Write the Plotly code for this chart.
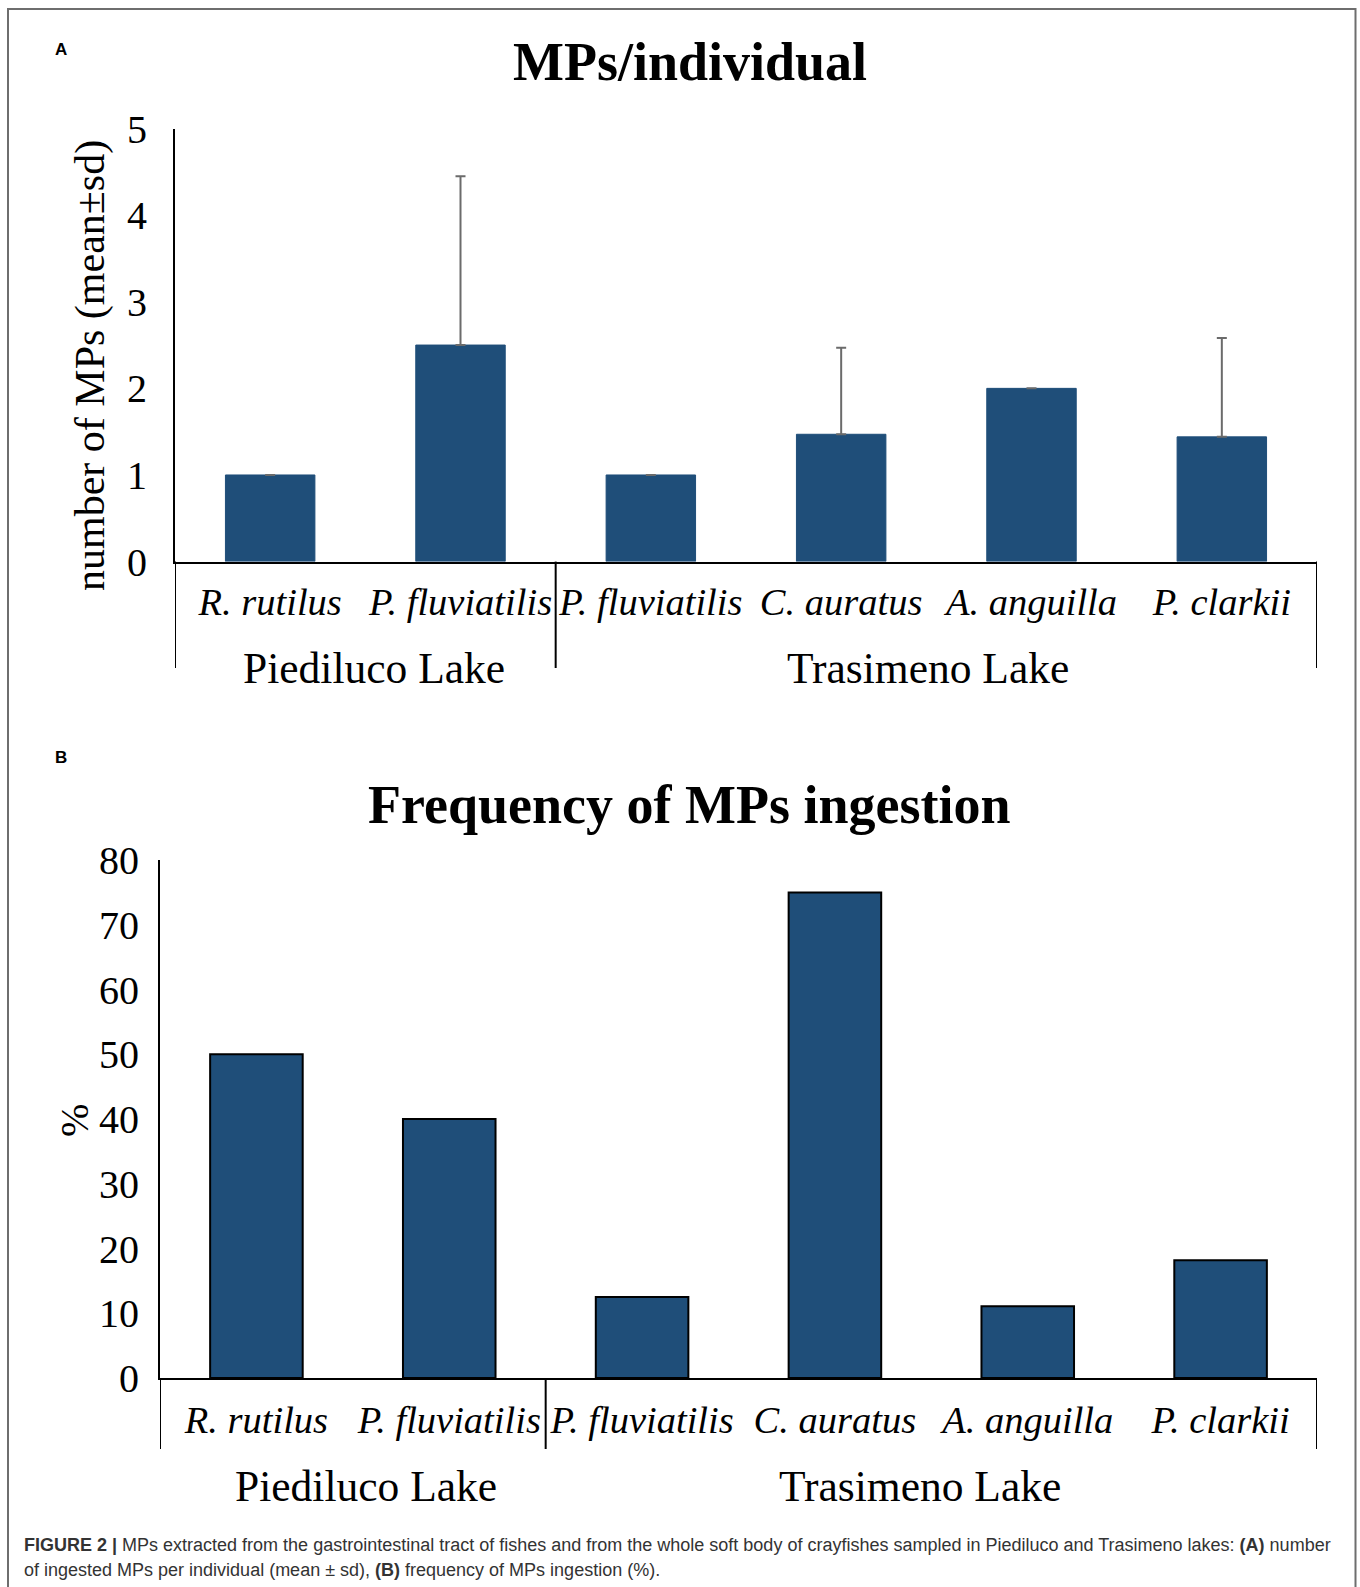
import plotly.graph_objects as go

# ---------------- data ----------------
lakes = ["Piediluco Lake", "Piediluco Lake", "Trasimeno Lake", "Trasimeno Lake", "Trasimeno Lake", "Trasimeno Lake"]
species = ["R. rutilus", "P. fluviatilis", "P. fluviatilis", "C. auratus", "A. anguilla", "P. clarkii"]
mps_mean = [1.0, 2.5, 1.0, 1.47, 2.0, 1.44]
mps_sd = [0.0, 1.95, 0.0, 1.0, 0.0, 1.14]
freq_pct = [50.0, 40.0, 12.5, 75.0, 11.1, 18.2]
group_names = ["Piediluco Lake", "Trasimeno Lake"]
yticks_a = [0, 1, 2, 3, 4, 5]
yticks_b = [0, 10, 20, 30, 40, 50, 60, 70, 80]

# the page body margin is removed by a post script, so the figure fills the window
OFF = 0
W, H = 1360, 1587
BAR = "#1F4E79"
SERIF = "Liberation Serif, Times New Roman, serif"
SANS = "Liberation Sans, Arial, sans-serif"

keys = [f"{l}|{s}" for l, s in zip(lakes, species)]
ticktext = [f"<i>{s}</i>" for s in species]


def px(x):
    return (x - OFF) / W


def py(y):
    return 1 - (y - OFF) / H


fig = go.Figure()
fig.add_trace(go.Bar(
    x=keys, y=mps_mean, xaxis="x", yaxis="y",
    marker=dict(color=BAR, line=dict(color=BAR, width=1)),
    width=0.47,
    error_y=dict(type="data", array=mps_sd, arrayminus=[0] * len(mps_sd), symmetric=False,
                 visible=True, color="#6b6b6b", thickness=2, width=5),
    showlegend=False,
))
fig.add_trace(go.Bar(
    x=keys, y=freq_pct, xaxis="x2", yaxis="y2",
    marker=dict(color=BAR, line=dict(color="#000000", width=2)),
    width=0.48,
    showlegend=False,
))

axis_common = dict(showgrid=False, zeroline=False, showline=True, linecolor="#000000", linewidth=2,
                   ticks="", fixedrange=True, automargin=False)
xfont = dict(family=SERIF, size=38.5, color="#000")
yfont = dict(family=SERIF, size=40, color="#000")

fig.update_layout(
    width=W, height=H,
    margin=dict(l=0, r=0, t=0, b=0, autoexpand=False),
    paper_bgcolor="#ffffff", plot_bgcolor="#ffffff",
    xaxis=dict(domain=[px(175), px(1317)], anchor="y", type="category",
               categoryorder="array", categoryarray=keys,
               tickvals=keys, ticktext=ticktext, range=[-0.5, 5.5], tickangle=0,
               tickfont=xfont, ticklabelstandoff=5,
               **axis_common),
    yaxis=dict(domain=[py(561.6), py(128.5)], anchor="x", range=[0, 5], tickvals=yticks_a,
               tickfont=yfont, ticklabelstandoff=18,
               **axis_common),
    xaxis2=dict(domain=[px(160), px(1317)], anchor="y2", type="category",
                categoryorder="array", categoryarray=keys,
                tickvals=keys, ticktext=ticktext, range=[-0.5, 5.5], tickangle=0,
                tickfont=xfont, ticklabelstandoff=7,
                **axis_common),
    yaxis2=dict(domain=[py(1378), py(860)], anchor="x2", range=[0, 80], tickvals=yticks_b,
                tickfont=yfont, ticklabelstandoff=11,
                **axis_common),
)

shapes = []
annotations = []

# group dividers and group labels
for xa, ytop, ybottom, ylab, shifts in [("x", 561.6, 668, 668, [9, -8]), ("x2", 1378, 1449, 1486, [13, -11])]:
    start = 0
    bounds = [-0.5]
    centers = []
    for g in group_names:
        n = lakes.count(g)
        centers.append(start + (n - 1) / 2)
        start += n
        bounds.append(start - 0.5)
    for b in bounds:
        shapes.append(dict(type="line", xref=xa, yref="paper", x0=b, x1=b,
                           y0=py(ybottom), y1=py(ytop),
                           line=dict(color="#000000", width=2)))
    for g, c, s in zip(group_names, centers, shifts):
        annotations.append(dict(xref=xa, yref="paper", x=c, y=py(ylab), text=g, showarrow=False,
                                xanchor="center", yanchor="middle", xshift=s,
                                font=dict(family=SERIF, size=43.5, color="#000")))

# outer border
shapes.append(dict(type="rect", xref="paper", yref="paper", x0=px(8), x1=px(1355.5), y0=-0.01, y1=py(9),
                   line=dict(color="#6e6e6e", width=2)))

# titles and panel letters
annotations += [
    dict(xref="paper", yref="paper", x=px(690), y=py(62), text="<b>MPs/individual</b>", showarrow=False,
         xanchor="center", yanchor="middle", font=dict(family=SERIF, size=54, color="#000")),
    dict(xref="paper", yref="paper", x=px(689), y=py(805), text="<b>Frequency of MPs ingestion</b>",
         showarrow=False, xanchor="center", yanchor="middle", font=dict(family=SERIF, size=54, color="#000")),
    dict(xref="paper", yref="paper", x=px(61), y=py(49), text="<b>A</b>", showarrow=False,
         xanchor="center", yanchor="middle", font=dict(family=SANS, size=17, color="#000")),
    dict(xref="paper", yref="paper", x=px(61), y=py(757), text="<b>B</b>", showarrow=False,
         xanchor="center", yanchor="middle", font=dict(family=SANS, size=17, color="#000")),
    dict(xref="paper", yref="paper", x=px(91), y=py(366), text="number of MPs (mean±sd)", showarrow=False,
         textangle=-90, xanchor="center", yanchor="middle", font=dict(family=SERIF, size=42, color="#000")),
    dict(xref="paper", yref="paper", x=px(74), y=py(1121), text="%", showarrow=False,
         textangle=-90, xanchor="center", yanchor="middle", font=dict(family=SERIF, size=40, color="#000")),
    dict(xref="paper", yref="paper", x=px(22), y=py(1545),
         text="<b>FIGURE 2 |</b> MPs extracted from the gastrointestinal tract of fishes and from the whole soft body of crayfishes sampled in Piediluco and Trasimeno lakes: <b>(A)</b> number",
         showarrow=False, xanchor="left", yanchor="middle", font=dict(family=SANS, size=18, color="#333333")),
    dict(xref="paper", yref="paper", x=px(22), y=py(1570),
         text="of ingested MPs per individual (mean ± sd), <b>(B)</b> frequency of MPs ingestion (%).",
         showarrow=False, xanchor="left", yanchor="middle", font=dict(family=SANS, size=18, color="#333333")),
]

fig.update_layout(shapes=shapes, annotations=annotations)
fig.write_html("out.html", config={"displayModeBar": False},
               post_script="document.body.style.margin='0';document.body.style.overflow='hidden';")
